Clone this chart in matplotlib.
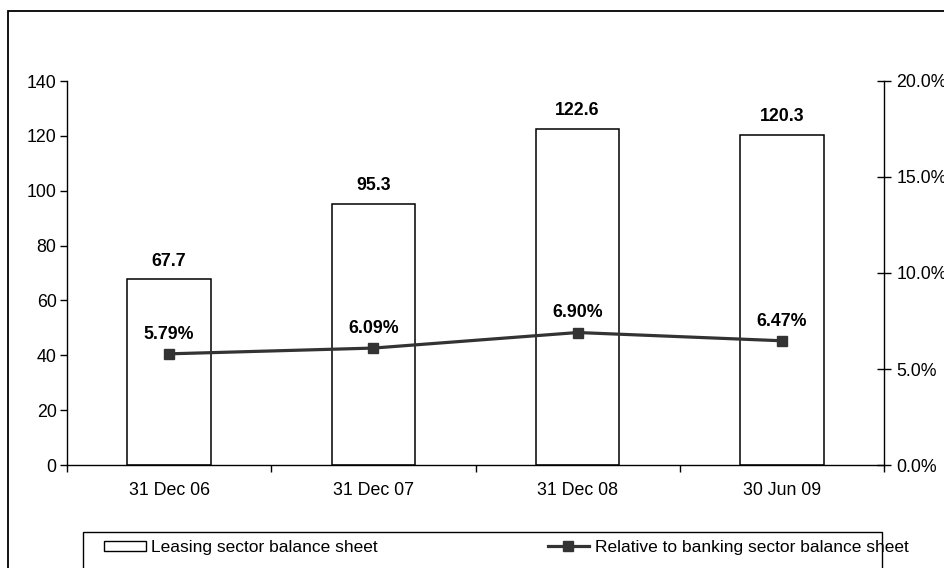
import numpy as np
import matplotlib
matplotlib.use('Agg')
import matplotlib.pyplot as plt
from matplotlib.patches import Rectangle
from matplotlib.lines import Line2D
from matplotlib.ticker import FuncFormatter

plt.rcParams['font.family'] = ['Liberation Sans', 'DejaVu Sans']
plt.rcParams['font.size'] = 12.8

# data
categories = ['31 Dec 06', '31 Dec 07', '31 Dec 08', '30 Jun 09']
balance = [67.7, 95.3, 122.6, 120.3]
share_pct = [5.79, 6.09, 6.90, 6.47]

fig = plt.figure(figsize=(9.44, 5.68), dpi=100)
ax = fig.add_axes([67 / 944, 1 - 465 / 568, (884 - 67) / 944, (465 - 81) / 568])
ax2 = ax.twinx()

x = np.arange(len(categories))

# bars
ax.bar(x, balance, width=0.41, color='white', edgecolor='black', linewidth=1.1, zorder=2)
for xi, v in zip(x, balance):
    ax.annotate(f'{v:.1f}', (xi, v), xytext=(0, 7), textcoords='offset points',
                ha='center', va='bottom', fontweight='bold')

ax.set_xlim(-0.5, len(categories) - 0.5)
ax.set_ylim(0, 140)
ax.set_yticks(np.arange(0, 141, 20))
ax.set_xticks(x)
ax.set_xticklabels(categories)
ax.set_xticks(np.arange(-0.5, len(categories), 1), minor=True)
ax.tick_params(axis='x', which='major', length=0, pad=12)
ax.tick_params(axis='x', which='minor', length=5, width=1, direction='out')
ax.tick_params(axis='y', length=5, width=1, direction='out', pad=2.5)

# line on secondary axis
ax2.plot(x, share_pct, color='#333333', linewidth=2.3, marker='s', markersize=6.5,
         zorder=3)
for xi, v in zip(x, share_pct):
    ax2.annotate(f'{v:.2f}%', (xi, v), xytext=(0, 8), textcoords='offset points',
                 ha='center', va='bottom', fontweight='bold')
ax2.set_ylim(0, 20)
ax2.set_yticks(np.arange(0, 20.1, 5))
ax2.yaxis.set_major_formatter(FuncFormatter(lambda v, p: f'{v:.1f}%'))
ax2.tick_params(axis='y', length=10, width=1, direction='inout', pad=4)

for a in (ax, ax2):
    a.spines['top'].set_visible(False)
    for s in ('left', 'right', 'bottom'):
        a.spines[s].set_linewidth(1)
        a.spines[s].set_color('black')
ax.spines['right'].set_visible(False)
ax2.spines['left'].set_visible(False)
ax2.spines['bottom'].set_visible(False)

# legend (frame drawn separately so the long label runs past it as in the source)
handles = [
    Rectangle((0, 0), 1, 1, facecolor='white', edgecolor='black', linewidth=1),
    Line2D([], [], color='#333333', linewidth=2.3, marker='s', markersize=6.5),
]
labels = ['Leasing sector balance sheet', 'Relative to banking sector balance sheet']
leg = fig.legend(handles, labels, loc='upper left', ncol=2,
                 bbox_to_anchor=(104 / 944, 1 - 540 / 568), frameon=False,
                 borderaxespad=0, borderpad=0, handlelength=2.4, handleheight=0.5,
                 handletextpad=0.3, columnspacing=9.8, fontsize=12.5)
fig.patches.append(Rectangle((83 / 944, -0.05), (882 - 83) / 944, 0.05 + 1 - 532 / 568,
                             transform=fig.transFigure, fill=False,
                             edgecolor='black', linewidth=1))

# outer frame
fig.patches.append(Rectangle((8 / 944, -0.05), 1.1, 1.05 - 11 / 568, transform=fig.transFigure,
                             fill=False, edgecolor='black', linewidth=1.3))

fig.savefig('out.png', dpi=100)
